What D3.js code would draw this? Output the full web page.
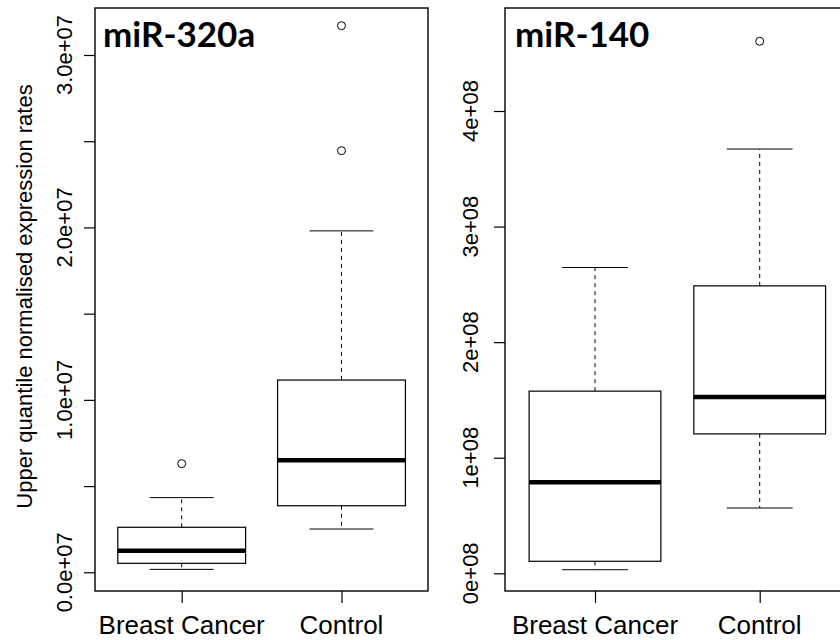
<!DOCTYPE html>
<html>
<head>
<meta charset="utf-8">
<script src="https://cdn.jsdelivr.net/npm/d3@7"></script>
<style>
  html, body { margin: 0; padding: 0; background: #fff; }
  svg { display: block; }
</style>
</head>
<body>
<svg id="chart" width="840" height="640"></svg>
<script>
// ---------------- data ----------------
const categories = ["Breast Cancer", "Control"];
const panelTitles = ["miR-320a", "miR-140"];
const yAxisTitle = "Upper quantile normalised expression rates";

// five-number summaries: [lower whisker, Q1, median, Q3, upper whisker]
const mir320aStats = [
  [1.7e5, 5.2e5, 1.25e6, 2.61e6, 4.33e6],
  [2.51e6, 3.86e6, 6.5e6, 1.115e7, 1.98e7]
];
const mir320aOutliers = [
  [6.3e6],
  [2.445e7, 3.17e7]
];
const mir140Stats = [
  [3.1e6, 1.04e7, 7.88e7, 1.576e8, 2.646e8],
  [5.65e7, 1.206e8, 1.526e8, 2.487e8, 3.671e8]
];
const mir140Outliers = [
  [],
  [4.603e8]
];

const mir320aTicks = [0, 5e6, 1e7, 1.5e7, 2e7, 2.5e7, 3e7];
const mir320aTickLabels = { 0: "0.0e+07", 1e7: "1.0e+07", 2e7: "2.0e+07", 3e7: "3.0e+07" };
const mir140Ticks = [0, 1e8, 2e8, 3e8, 4e8];
const mir140TickLabels = { 0: "0e+08", 1e8: "1e+08", 2e8: "2e+08", 3e8: "3e+08", 4e8: "4e+08" };

// ---------------- layout ----------------
const svg = d3.select("#chart");
svg.append("rect").attr("width", 840).attr("height", 640).attr("fill", "#fff");

const plotTop = 8, plotBottom = 591;

const panels = [
  {
    title: panelTitles[0], stats: mir320aStats, outliers: mir320aOutliers,
    ticks: mir320aTicks, labels: mir320aTickLabels,
    frameLeft: 95, frameRight: 428,
    y: d3.scaleLinear().domain([0, 3e7]).range([572.3, 55]),
    x: d3.scaleLinear().domain([1, 2]).range([181.7, 341.5]),
    labelX: 72, titleX: 103
  },
  {
    title: panelTitles[1], stats: mir140Stats, outliers: mir140Outliers,
    ticks: mir140Ticks, labels: mir140TickLabels,
    frameLeft: 505, frameRight: 850,
    y: d3.scaleLinear().domain([0, 4e8]).range([573.3, 111]),
    x: d3.scaleLinear().domain([1, 2]).range([595, 759.7]),
    labelX: 478, titleX: 515
  }
];

const axisFont = "'Liberation Sans', Arial, sans-serif";

panels.forEach(p => {
  const g = svg.append("g");
  const x = p.x, y = p.y;
  const unit = x(2) - x(1);
  const boxW = 0.8 * unit;
  const capW = boxW / 2;

  // y axis ticks via d3 axis
  const yAxis = d3.axisLeft(y).tickValues(p.ticks).tickSize(11).tickFormat("");
  const ya = g.append("g").attr("transform", `translate(${p.frameLeft},0)`).call(yAxis);
  ya.select(".domain").remove();
  ya.selectAll(".tick line").attr("stroke", "#000").attr("stroke-width", 1.2);

  // y tick labels (rotated)
  g.selectAll(".ylab").data(p.ticks.filter(t => p.labels[t] !== undefined)).enter()
    .append("text")
    .attr("transform", t => `translate(${p.labelX},${y(t)}) rotate(-90)`)
    .attr("text-anchor", "middle")
    .attr("font-family", axisFont)
    .attr("font-size", 22)
    .attr("fill", "#000")
    .text(t => p.labels[t]);

  // x axis ticks
  const xa = g.append("g").attr("transform", `translate(0,${plotBottom})`)
    .call(d3.axisBottom(x).tickValues([1, 2]).tickSize(12).tickFormat(""));
  xa.select(".domain").remove();
  xa.selectAll(".tick line").attr("stroke", "#000").attr("stroke-width", 1.2);

  g.selectAll(".xlab").data(categories).enter()
    .append("text")
    .attr("x", (d, i) => x(i + 1))
    .attr("y", 634)
    .attr("text-anchor", "middle")
    .attr("font-family", axisFont)
    .attr("font-size", 26)
    .attr("fill", "#000")
    .text(d => d);

  // boxes
  p.stats.forEach((s, i) => {
    const cx = x(i + 1);
    const [lo, q1, med, q3, hi] = s;
    // whiskers (dashed)
    g.append("line").attr("x1", cx).attr("x2", cx).attr("y1", y(q3)).attr("y2", y(hi))
      .attr("stroke", "#000").attr("stroke-width", 1).attr("stroke-dasharray", "4,4");
    g.append("line").attr("x1", cx).attr("x2", cx).attr("y1", y(q1)).attr("y2", y(lo))
      .attr("stroke", "#000").attr("stroke-width", 1).attr("stroke-dasharray", "4,4");
    // caps
    [lo, hi].forEach(v => {
      g.append("line").attr("x1", cx - capW / 2).attr("x2", cx + capW / 2)
        .attr("y1", y(v)).attr("y2", y(v))
        .attr("stroke", "#000").attr("stroke-width", 1);
    });
    // box
    g.append("rect").attr("x", cx - boxW / 2).attr("y", y(q3))
      .attr("width", boxW).attr("height", y(q1) - y(q3))
      .attr("fill", "none").attr("stroke", "#000").attr("stroke-width", 1.2);
    // median
    g.append("line").attr("x1", cx - boxW / 2).attr("x2", cx + boxW / 2)
      .attr("y1", y(med)).attr("y2", y(med))
      .attr("stroke", "#000").attr("stroke-width", 4.5);
    // outliers
    g.selectAll(null).data(p.outliers[i]).enter().append("circle")
      .attr("cx", cx).attr("cy", v => y(v)).attr("r", 4)
      .attr("fill", "none").attr("stroke", "#000").attr("stroke-width", 1);
  });

  // frame
  g.append("rect").attr("x", p.frameLeft).attr("y", plotTop)
    .attr("width", p.frameRight - p.frameLeft).attr("height", plotBottom - plotTop)
    .attr("fill", "none").attr("stroke", "#000").attr("stroke-width", 1.4);

  // panel title
  g.append("text").attr("x", p.titleX).attr("y", 47)
    .attr("font-family", "Lato, 'Open Sans', sans-serif")
    .attr("font-weight", 700)
    .attr("font-size", 35)
    .attr("fill", "#000")
    .text(p.title);
});

// y axis title
svg.append("text")
  .attr("transform", `translate(32,${(plotTop + plotBottom) / 2 - 3}) rotate(-90)`)
  .attr("text-anchor", "middle")
  .attr("font-family", axisFont)
  .attr("font-size", 22)
  .attr("fill", "#000")
  .text(yAxisTitle);
</script>
</body>
</html>
